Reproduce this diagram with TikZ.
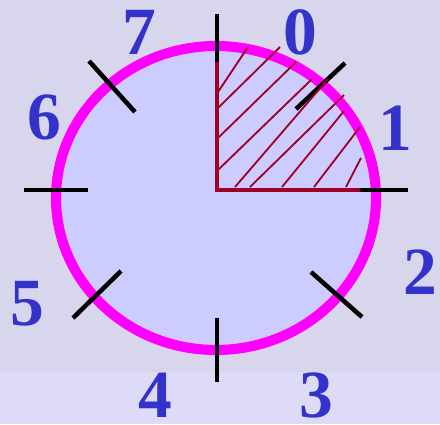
\documentclass[tikz,border=0pt]{standalone}
\usepackage{fontspec}
\setmainfont{Liberation Serif}
\usepackage{tikz}
\usetikzlibrary{positioning,calc}
\definecolor{bgtop}{RGB}{216,214,236}
\definecolor{bgbot}{RGB}{222,219,248}
\definecolor{dialfill}{RGB}{204,204,255}
\definecolor{rimcol}{RGB}{255,0,255}
\definecolor{digitcol}{RGB}{51,51,204}
\definecolor{hatchcol}{RGB}{160,0,40}

\begin{document}
\begin{tikzpicture}[
    x=0.025cm, y=-0.025cm,
    digit/.style={inner sep=0pt, text=digitcol, font=\fontsize{48}{48}\selectfont\bfseries},
    tick/.style={draw=black, line width=3.2pt},
    hatchline/.style={draw=hatchcol, line width=1.3pt},
    sector/.style={draw=hatchcol, line width=2.6pt}
]
    % background
    \useasboundingbox (0,0) rectangle (440,424);
    \fill[bgtop] (0,0) rectangle (440,372);
    \fill[bgbot] (0,372) rectangle (440,424);

    % dial
    \coordinate (c) at (216,198);
    \draw[fill=dialfill, draw=rimcol, line width=7.2pt] (c) ellipse [x radius=160, y radius=152];

    % ticks
    \coordinate (o) at (217,190);
    \draw[tick] (217,14) -- (217,62);
    \draw[tick] (360,190) -- (408,190);
    \draw[tick] (217,318) -- (217,382);
    \draw[tick] (24,190) -- (88,190);
    \draw[tick] (296,109) -- (345,63);
    \draw[tick] (89,61) -- (135,112);
    \draw[tick] (73,318) -- (121,271);
    \draw[tick] (311,272) -- (362,317);

    % hatching of the first quadrant
    \draw[hatchline] (218,92) -- (248,47);
    \draw[hatchline] (218,108) -- (280,47);
    \draw[hatchline] (218,138) -- (296,62);
    \draw[hatchline] (218,170) -- (312,79);
    \draw[hatchline] (235,187) -- (328,79);
    \draw[hatchline] (250,187) -- (344,95);
    \draw[hatchline] (282,187) -- (344,111);
    \draw[hatchline] (314,187) -- (360,127);
    \draw[hatchline] (346,187) -- (361,158);
    \draw[sector] (217,62) -- (o) -- (360,190);

    % sector numbers
    \node[digit] (d0) at (300,32) {0};
    \node[digit] (d1) at (395,128) {1};
    \node[digit] (d2) at (420,272) {2};
    \node[digit] (d3) at (316,395) {3};
    \node[digit] (d4) at (155,395) {4};
    \node[digit] (d5) at (27,304) {5};
    \node[digit] (d6) at (44,117) {6};
    \node[digit] (d7) at (139,32) {7};
\end{tikzpicture}
\end{document}
